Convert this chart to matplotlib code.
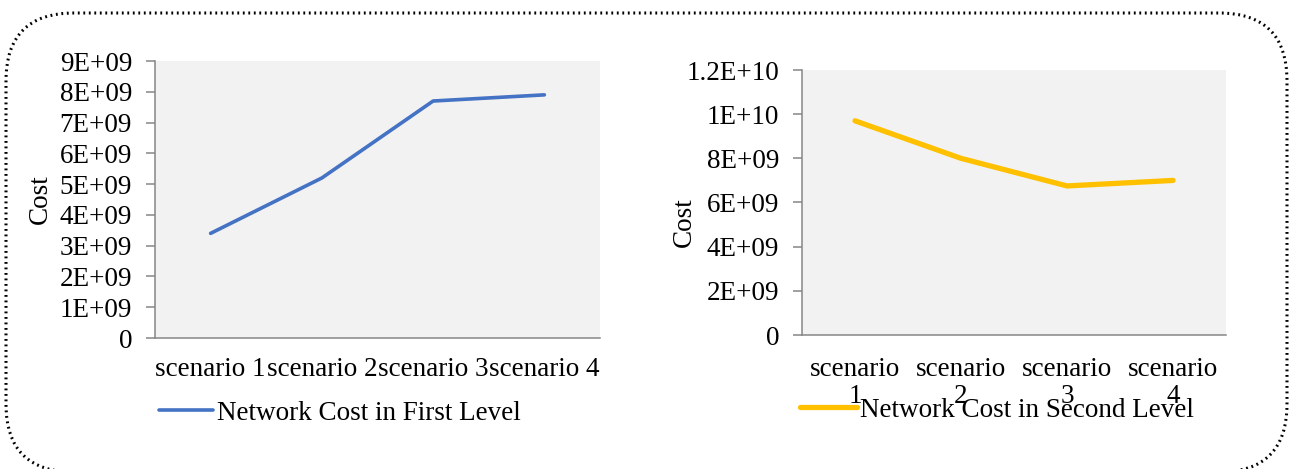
import math
import matplotlib
matplotlib.use("Agg")
import matplotlib.pyplot as plt
from matplotlib.patches import FancyBboxPatch
from matplotlib.ticker import MultipleLocator, FuncFormatter

# data
scenarios = ["scenario 1", "scenario 2", "scenario 3", "scenario 4"]
first_level_cost = [3.4e9, 5.2e9, 7.7e9, 7.9e9]
second_level_cost = [9.7e9, 8.0e9, 6.75e9, 7.0e9]
first_label = "Network Cost in First Level"
second_label = "Network Cost in Second Level"

plt.rcParams['font.family'] = ['Liberation Serif', 'DejaVu Serif']
FS = 19.5
GRAY = '#868686'


def excel_general(v, pos):
    # mimic Excel "General" number format for big values
    if v == 0:
        return "0"
    exp = int(math.floor(math.log10(abs(v))))
    mant = round(v / 10 ** exp, 6)
    return f"{mant:g}E+{exp:02d}"


def style_axes(ax, xpad):
    ax.set_facecolor('#F2F2F2')
    for side in ['top', 'right']:
        ax.spines[side].set_visible(False)
    for side in ['left', 'bottom']:
        ax.spines[side].set_color(GRAY)
        ax.spines[side].set_linewidth(1.1)
    ax.yaxis.set_major_formatter(FuncFormatter(excel_general))
    ax.tick_params(axis='y', length=6.5, width=1.1, color=GRAY, pad=10, labelsize=FS)
    ax.tick_params(axis='x', length=0, pad=xpad, labelsize=FS)
    ax.set_xlim(-0.5, len(scenarios) - 0.5)


fig = plt.figure(figsize=(12.9, 4.69), dpi=100)

# left chart
ax1 = fig.add_axes([155 / 1290, 1 - 338 / 469, 445 / 1290, 277 / 469])
style_axes(ax1, 14)
x = range(len(scenarios))
ax1.plot(x, first_level_cost, color='#4472C4', lw=2.6, solid_capstyle='round', label=first_label)
ax1.set_ylim(0, 9e9)
ax1.yaxis.set_major_locator(MultipleLocator(1e9))
ax1.set_xticks(list(x))
ax1.set_xticklabels(scenarios)
fig.text(40 / 1290, 1 - 199 / 469, "Cost", rotation=90, ha='center', va='center', fontsize=FS)
ax1.legend(loc='center left', bbox_to_anchor=(159 / 1290, 1 - 413 / 469), bbox_transform=fig.transFigure,
           frameon=False, borderpad=0, borderaxespad=0, handlelength=2.0, handletextpad=0.15, fontsize=FS)

# right chart
ax2 = fig.add_axes([802 / 1290, 1 - 335 / 469, 424 / 1290, 265 / 469])
style_axes(ax2, 16)
ax2.plot(x, second_level_cost, color='#FFC000', lw=3.8, solid_capstyle='round', label=second_label)
ax2.set_ylim(0, 1.2e10)
ax2.yaxis.set_major_locator(MultipleLocator(2e9))
ax2.set_xticks(list(x))
ax2.set_xticklabels([s.replace(" ", "\n") for s in scenarios], linespacing=1.1)
fig.text(684 / 1290, 1 - 222 / 469, "Cost", rotation=90, ha='center', va='center', fontsize=FS)
ax2.legend(loc='center left', bbox_to_anchor=(800 / 1290, 1 - 410 / 469), bbox_transform=fig.transFigure,
           frameon=False, borderpad=0, borderaxespad=0, handlelength=2.1, handletextpad=0.12, fontsize=FS)

# dotted rounded frame around both charts
frame = FancyBboxPatch((0.06, -0.03), 12.81, 4.59, boxstyle="round,pad=0,rounding_size=0.68",
                       transform=fig.dpi_scale_trans, fill=False, edgecolor='black',
                       linewidth=2.2, linestyle=(0, (0.6, 1.2)), clip_on=False)
fig.patches.append(frame)

fig.savefig("out.png", dpi=100)
